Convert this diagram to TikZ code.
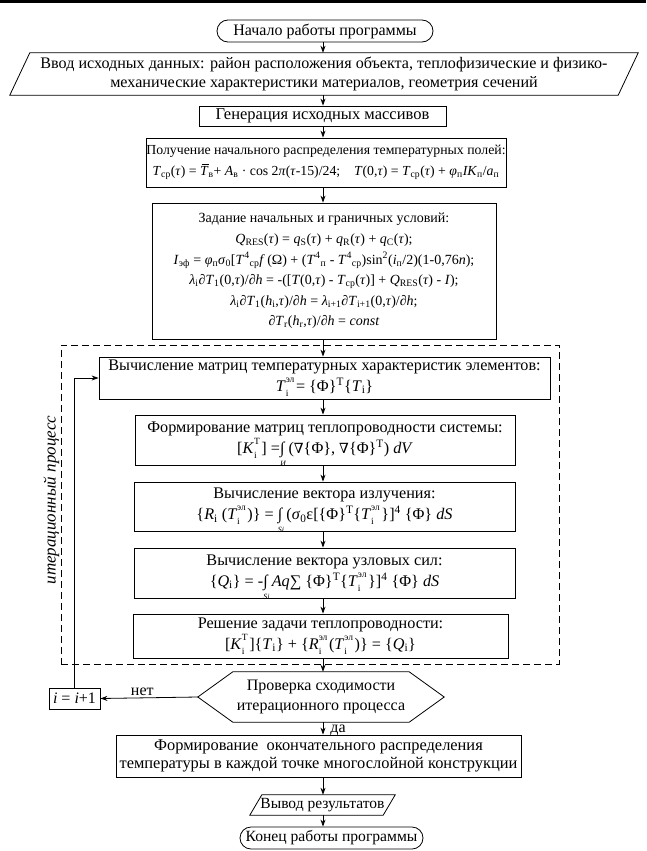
\documentclass[tikz,border=0pt]{standalone}
\usepackage{fontspec}
\setmainfont{Liberation Serif}
\newfontfamily\djvserif{DejaVu Serif}
\usetikzlibrary{arrows.meta,calc}

\newlength\xwa
\newlength\xwb
\newcommand{\xit}[1]{\textit{#1}}
\newcommand{\xsb}[1]{\textsubscript{#1}}
\newcommand{\xsp}[1]{\textsuperscript{#1}}
\newcommand{\xscr}{\fontsize{9.5}{9.5}\selectfont}
\newcommand{\xsbsp}[2]{\settowidth\xwa{\xscr #2}\settowidth\xwb{\xscr #1}\makebox[0pt][l]{\raisebox{0.55em}{\xscr #2}}\makebox[0pt][l]{\raisebox{-0.3em}{\xscr #1}}\ifdim\xwa>\xwb\hspace{\xwa}\else\hspace{\xwb}\fi\hspace{0.1em}}
\newcommand{\xint}[1]{\makebox[0pt][l]{\smash{\raisebox{-0.8em}{\fontsize{8}{8}\selectfont\textit{#1}}}}∫}
\newcommand{\xnab}{{\djvserif\fontsize{14}{14}\selectfont ∇}}
\newcommand{\xTbar}{\makebox[0pt][l]{\raisebox{0.78em}{\hspace{0.12em}\rule{0.55em}{0.06em}}}\textit{T}}

\begin{document}
\begin{tikzpicture}[x=1pt,y=-1pt,
  every node/.style={font=\fontsize{16}{20}\selectfont, inner sep=0pt, align=center},
  proc/.style={draw, line width=0.8pt},
  term/.style={draw, line width=0.8pt, rounded corners=11pt},
  ln/.style={line width=0.8pt},
  arr/.style={-{Stealth[length=7pt,width=5pt]}, line width=0.8pt},
  grpbox/.style={draw, line width=0.8pt, dash pattern=on 7pt off 4pt}
]
\useasboundingbox (0,0) rectangle (646,851);
\fill (0,0) rectangle (646,3);
\coordinate (ax) at (323,0);

\node[term, minimum width=216pt, minimum height=22pt] (start) at (325,31) {Начало работы программы};

\node[minimum width=608pt, minimum height=42pt, font=\fontsize{16.1}{18.5}\selectfont] (inp) at (324,74) {Ввод исходных данных: район расположения объекта, теплофизические и физико-\\механические характеристики материалов, геометрия сечений};
\draw[ln] ($(inp.south west)+(-10,0)$) -- ($(inp.north west)+(10,0)$) -- ($(inp.north east)+(10,0)$) -- ($(inp.south east)+(-10,0)$) -- cycle;

\node[proc, minimum width=247pt, minimum height=20pt, font=\fontsize{16.5}{20}\selectfont] (gen) at (322.5,116) {Генерация исходных массивов};

\node[proc, minimum width=360pt, minimum height=49pt, font=\fontsize{13.8}{21}\selectfont] (pol) at (326,162.5) {Получение начального распределения температурных полей:\\
\xit{T}\xsb{ср}(\xit{τ}) = \xTbar\xsb{в}+ \xit{A}\xsb{в} · cos 2\xit{π}(\xit{τ}-15)/24;\quad \xit{T}(0,\xit{τ}) = \xit{T}\xsb{ср}(\xit{τ}) + \xit{φ}\xsb{п}\xit{IK}\xsb{п}/\xit{a}\xsb{п}};

\node[proc, minimum width=344pt, minimum height=136pt, font=\fontsize{14}{20.6}\selectfont] (zad) at (324,271) {Задание начальных и граничных условий:\\
\xit{Q}\xsb{RES}(\xit{τ}) = \xit{q}\xsb{S}(\xit{τ}) + \xit{q}\xsb{R}(\xit{τ}) + \xit{q}\xsb{C}(\xit{τ});\\
\xit{I}\xsb{эф} = \xit{φ}\xsb{п}\xit{σ}\xsb{0}[\xit{T}\xsp{4}\xsb{ср}\xit{f}\,(Ω) + (\xit{T}\xsp{4}\xsb{п} - \xit{T}\xsp{4}\xsb{ср})sin\xsp{2}(\xit{i}\xsb{п}/2)(1-0,76\xit{n});\\
\xit{λ}\xsb{i}∂\xit{T}\xsb{1}(0,\xit{τ})/∂\xit{h} = -([\xit{T}(0,\xit{τ}) - \xit{T}\xsb{ср}(\xit{τ})] + \xit{Q}\xsb{RES}(\xit{τ}) - \xit{I});\\
\xit{λ}\xsb{i}∂\xit{T}\xsb{1}(\xit{h}\xsb{i},\xit{τ})/∂\xit{h} = \xit{λ}\xsb{i+1}∂\xit{T}\xsb{i+1}(0,\xit{τ})/∂\xit{h};\\
∂\xit{T}\xsb{r}(\xit{h}\xsb{r},\xit{τ})/∂\xit{h} = \xit{const}};

\node[grpbox, minimum width=498pt, minimum height=319pt] (grp) at (310,504.5) {};

\node[proc, minimum width=451pt, minimum height=42pt, font=\fontsize{16.2}{21}\selectfont] (vych) at (324.5,378) {Вычисление матриц температурных характеристик элементов:\\
\xit{T}\xsbsp{i}{эл}= \{Φ\}\xsp{T}\{\xit{T}\xsb{i}\}};

\node[proc, minimum width=380pt, minimum height=50pt, font=\fontsize{16.2}{21}\selectfont] (form) at (325,440) {Формирование матриц теплопроводности системы:\\
{[}\xit{K}\xsbsp{i}{T}] =\xint{И} (\xnab\{Φ\}, \xnab\{Φ\}\xsp{T}) \xit{dV}};

\node[proc, minimum width=381pt, minimum height=49pt, font=\fontsize{16.2}{21}\selectfont] (izl) at (324.5,506.5) {Вычисление вектора излучения:\\
\{\xit{R}\xsb{i} (\xit{T}\xsbsp{i}{эл})\} = \xint{Si} (\xit{σ}\xsb{0}ε[\{Φ\}\xsp{T}\{\xit{T}\xsbsp{i}{эл}\}]\xsp{4} \{Φ\} \xit{dS}};

\node[proc, minimum width=381pt, minimum height=50pt, font=\fontsize{16.2}{21}\selectfont] (uzl) at (324.5,573) {Вычисление вектора узловых сил:\\
\{\xit{Q}\xsb{i}\} = -\xint{Si} \xit{Aq}∑ \{Φ\}\xsp{T}\{\xit{T}\xsbsp{i}{эл}\}]\xsp{4} \{Φ\} \xit{dS}};

\node[proc, minimum width=375pt, minimum height=44pt, font=\fontsize{16.2}{21}\selectfont] (resh) at (320.5,636) {Решение задачи теплопроводности:\\
{[}\xit{K}\xsbsp{i}{T}]\{\xit{T}\xsb{i}\} + \{\xit{R}\xsbsp{i}{эл}(\xit{T}\xsbsp{i}{эл})\} = \{\xit{Q}\xsb{i}\}};

\node[minimum width=246pt, minimum height=50pt] (hex) at (321,697) {Проверка сходимости\\итерационного процесса};
\draw[ln] (hex.west) -- ($(hex.north west)+(35,0)$) -- ($(hex.north east)+(-35,0)$) -- (hex.east) -- ($(hex.south east)+(-35,0)$) -- ($(hex.south west)+(35,0)$) -- cycle;

\node[proc, minimum width=51pt, minimum height=21pt] (ibox) at (74.5,698.5) {\xit{i} = \xit{i}+1};

\node[proc, minimum width=405pt, minimum height=42pt, font=\fontsize{16.4}{18.5}\selectfont] (final) at (318.5,756) {Формирование\ \ окончательного распределения\\температуры в каждой точке многослойной конструкции};

\node[minimum width=133pt, minimum height=20pt, font=\fontsize{15.5}{20}\selectfont] (out) at (322.5,805) {Вывод результатов};
\draw[ln] ($(out.south west)+(-6,0)$) -- ($(out.north west)+(6,0)$) -- ($(out.north east)+(6,0)$) -- ($(out.south east)+(-6,0)$) -- cycle;

\node[term, minimum width=183pt, minimum height=22pt, font=\fontsize{15.6}{20}\selectfont] (end) at (331.5,838) {Конец работы программы};

\node[rotate=90, font=\itshape\fontsize{17}{18}\selectfont] (lbl) at (51.5,500) {итерационный процесс};

\draw[arr] (start.south -| ax) -- (inp.north -| ax);
\draw[arr] (inp.south -| ax) -- (gen.north -| ax);
\draw[arr] (gen.south -| ax) -- (pol.north -| ax);
\draw[arr] (pol.south -| ax) -- (zad.north -| ax);
\draw[arr] (zad.south -| ax) -- (vych.north -| ax);
\draw[arr] (vych.south -| ax) -- (form.north -| ax);
\draw[arr] (form.south -| ax) -- (izl.north -| ax);
\draw[arr] (izl.south -| ax) -- (uzl.north -| ax);
\draw[arr] (uzl.south -| ax) -- (resh.north -| ax);
\draw[arr] (resh.south -| ax) -- (hex.north -| ax);
\draw[arr] (hex.south -| ax) -- (final.north -| ax) node[midway, anchor=west, xshift=7pt, yshift=-2pt] {да};
\draw[arr] (final.south -| ax) -- (out.north -| ax);
\draw[arr] (out.south -| ax) -- (end.north -| ax);
\draw[arr] (hex.west) -- (ibox.east) node[pos=0.57, above=2pt] {нет};
\draw[arr] (ibox.north) |- (vych.west);
\end{tikzpicture}
\end{document}
